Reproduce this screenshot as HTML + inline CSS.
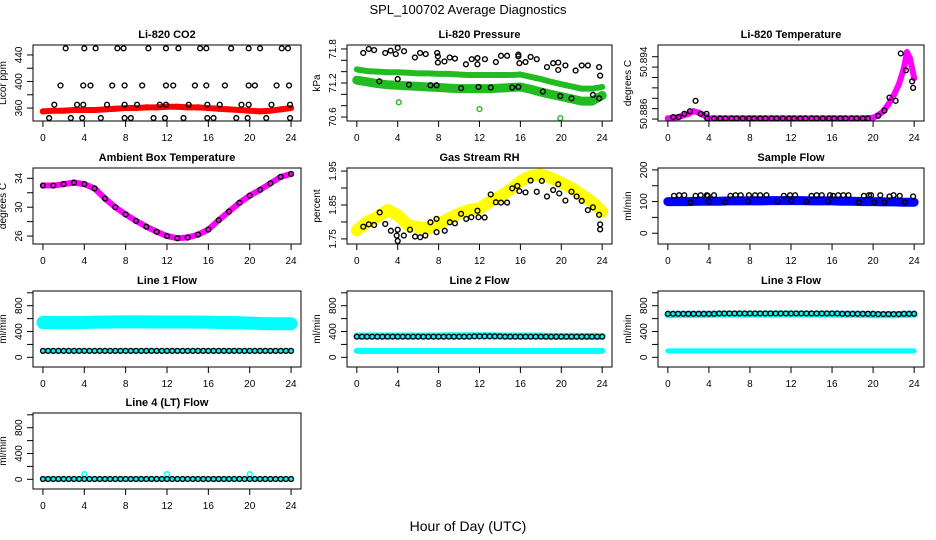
<!DOCTYPE html>
<html><head><meta charset="utf-8"><title>SPL_100702 Average Diagnostics</title>
<style>
html,body{margin:0;padding:0;background:#fff;}
svg{display:block;font-family:"Liberation Sans",Arial,sans-serif;}
</style></head>
<body>
<svg id="chart" width="936" height="540" viewBox="0 0 936 540" xmlns="http://www.w3.org/2000/svg">
<rect width="936" height="540" fill="#fff"/>
<text x="468" y="14" text-anchor="middle" font-size="13">SPL_100702  Average Diagnostics</text>
<text x="468" y="531" text-anchor="middle" font-size="14">Hour of Day (UTC)</text>
</svg>
<script>
// ---------- data ----------
const xTickLabels = [0,4,8,12,16,20,24];
const hours = [0,1,2,3,4,5,6,7,8,9,10,11,12,13,14,15,16,17,18,19,20,21,22,23,24];
const denseHours = [0,0.5,1,1.5,2,2.5,3,3.5,4,4.5,5,5.5,6,6.5,7,7.5,8,8.5,9,9.5,10,10.5,11,11.5,12,12.5,13,13.5,14,14.5,15,15.5,16,16.5,17,17.5,18,18.5,19,19.5,20,20.5,21,21.5,22,22.5,23,23.5,24];

// CO2
const co2Ticks = [360,380,400,420,440];
const co2Labels = [360,400,440];
const co2Band = [355,356,356,357,357,357,358,359,360,360,361,361,362,362,361,361,360,359,358,357,356,355,356,358,360];
const co2Times = [2.2,4.0,5.1,7.2,7.8,10.2,11.9,13.1,15.2,15.8,18.2,19.9,21.0,23.1,23.7,
  1.7,3.9,4.6,6.7,7.9,9.6,11.9,12.6,14.7,15.8,17.6,19.9,20.5,22.6,23.8,
  1.1,3.3,3.9,6.2,7.9,9.1,11.3,11.9,14.1,15.9,17.1,19.2,19.9,22.1,23.9,
  0.6,2.7,3.8,5.6,7.9,8.5,10.7,11.8,13.6,15.9,16.5,18.7,19.8,21.6,23.9];
const co2Vals = [450,450,450,450,450,450,450,450,450,450,450,450,450,450,450,
  394,394,394,394,394,394,394,394,394,394,394,394,394,394,394,
  365,365,365,365,365,365,365,365,365,365,365,365,365,365,365,
  345,345,345,345,345,345,345,345,345,345,345,345,345,345,345];

// Pressure
const presTicks = [70.6,70.8,71.0,71.2,71.4,71.6,71.8];
const presLabels = [70.6,71.2,71.8];
const presUpper = [71.44,71.41,71.40,71.39,71.39,71.38,71.37,71.37,71.36,71.36,71.35,71.34,71.34,71.34,71.34,71.34,71.35,71.31,71.27,71.22,71.18,71.14,71.10,71.10,71.13];
const presLower = [71.25,71.22,71.19,71.17,71.16,71.15,71.14,71.13,71.12,71.11,71.10,71.10,71.10,71.10,71.11,71.12,71.13,71.09,71.04,71.00,70.96,70.92,70.88,70.88,70.98];
const presTimes = [0.63,1.17,1.69,2.78,3.3,3.81,4.0,4.62,5.68,6.19,6.74,7.86,7.93,7.93,8.57,9.09,9.6,10.67,11.24,11.8,11.8,12.53,13.6,14.1,14.7,15.8,15.8,15.9,16.5,17.0,17.6,18.6,19.2,19.7,19.7,20.4,21.4,22.0,22.6,23.7,23.8,
  2.2,4.0,5.1,7.2,7.8,10.2,11.9,13.1,15.2,15.8,18.2,19.9,21.0,23.1,23.7];
const presVals = [71.73,71.80,71.78,71.73,71.77,71.71,71.82,71.76,71.65,71.73,71.71,71.73,71.67,71.56,71.58,71.65,71.63,71.53,71.62,71.64,71.53,71.62,71.57,71.68,71.68,71.70,71.67,71.55,71.57,71.66,71.62,71.48,71.55,71.56,71.43,71.51,71.42,71.51,71.51,71.48,71.33,
  71.23,71.27,71.17,71.16,71.16,71.11,71.13,71.12,71.12,71.13,71.05,70.97,70.93,70.99,70.93];
const presGreenTimes = [4.1,12.0,19.9];
const presGreenVals = [70.86,70.74,70.58];

// Li-820 temperature
const tempTicks = [50.8852,50.8868,50.8884,50.8900,50.8916,50.8932,50.8948];
const tempLabels = [50.886,50.894];
const tempBandTimes = [0,1,2,2.5,3,3.5,4,5,6,7,8,9,10,11,12,13,14,15,16,17,18,19,20,20.5,21,21.5,22,22.5,23,23.3,23.6,24];
const tempBand = [50.8853,50.8855,50.8860,50.8864,50.8862,50.8858,50.8853,50.8853,50.8853,50.8853,50.8853,50.8853,50.8853,50.8853,50.8853,50.8853,50.8853,50.8853,50.8853,50.8853,50.8853,50.8853,50.8854,50.8858,50.8864,50.8875,50.8888,50.8905,50.8930,50.8955,50.8945,50.8915];
const tempTimes = [0.52,1.07,1.6,2.15,2.7,3.2,3.77,3.84,4.5,5.1,5.6,6.2,6.7,7.3,7.9,8.4,9.0,9.5,10.1,10.6,11.2,11.8,12.3,12.9,13.4,14.0,14.5,15.1,15.7,16.2,16.8,17.3,17.9,18.4,19.0,19.5,20.5,21.1,21.6,22.2,22.7,23.2,23.8,23.9];
const tempVals = [50.8855,50.8855,50.8860,50.8864,50.8880,50.8860,50.8860,50.8853,50.8853,50.8853,50.8853,50.8853,50.8853,50.8853,50.8853,50.8853,50.8853,50.8853,50.8853,50.8853,50.8853,50.8853,50.8853,50.8853,50.8853,50.8853,50.8853,50.8853,50.8853,50.8853,50.8853,50.8853,50.8853,50.8853,50.8853,50.8853,50.8857,50.8865,50.8885,50.8880,50.8953,50.8927,50.8910,50.8900];

// Ambient box temperature
const ambTicks = [26,28,30,32,34];
const ambLabels = [26,30,34];
const ambVals = [33.0,33.0,33.2,33.4,33.2,32.6,31.2,30.0,29.0,28.1,27.3,26.6,26.0,25.7,25.8,26.2,26.9,28.2,29.4,30.6,31.6,32.4,33.3,34.2,34.6];

// Gas stream RH
const rhTicks = [1.75,1.80,1.85,1.90,1.95];
const rhLabels = [1.75,1.85,1.95];
const rhBand = [1.775,1.80,1.815,1.835,1.82,1.79,1.785,1.78,1.795,1.81,1.825,1.835,1.84,1.86,1.875,1.895,1.92,1.935,1.94,1.93,1.915,1.90,1.88,1.86,1.83];
const rhTimes = [0.63,1.17,1.69,2.24,2.78,3.33,3.9,4.0,4.0,4.6,5.2,5.7,6.2,6.7,7.2,7.8,7.8,8.6,9.1,9.6,10.2,10.7,11.2,11.8,11.9,12.5,13.1,13.6,14.1,14.7,15.2,15.7,15.9,16.5,17.0,17.6,18.1,18.6,19.2,19.7,19.8,20.4,21.0,21.5,22.0,22.6,23.1,23.7,23.8,23.8];
const rhVals = [1.786,1.793,1.791,1.828,1.794,1.774,1.760,1.744,1.777,1.760,1.777,1.757,1.755,1.760,1.799,1.809,1.770,1.774,1.799,1.796,1.824,1.809,1.814,1.833,1.814,1.813,1.881,1.858,1.857,1.857,1.899,1.906,1.891,1.887,1.922,1.889,1.921,1.875,1.894,1.911,1.884,1.863,1.889,1.875,1.862,1.835,1.843,1.821,1.793,1.778];

// Sample flow
const sfTicks = [0,50,100,150,200];
const sfLabels = [0,100,200];
const sfBand = [100,100,100,101,101,101,102,102,102,102,103,103,103,103,102,102,102,101,101,100,100,99,99,98,98];
const sfTimes = [0.6,1.1,1.6,2.2,2.7,3.2,3.8,3.9,4.0,4.5,5.6,6.1,6.6,7.1,7.8,7.9,8.5,9.0,9.6,10.7,11.3,11.9,12.0,12.4,13.5,14.0,14.5,15.0,15.6,15.8,16.1,16.6,17.1,17.6,18.6,19.1,19.6,19.8,20.1,20.7,21.1,21.6,22.0,22.6,23.1,23.9];
const sfVals = [118,120,120,98,118,120,120,118,100,120,98,118,120,120,100,120,120,120,120,100,118,120,102,120,100,118,120,120,100,120,118,120,120,120,98,118,120,120,98,120,98,116,120,118,98,116];

// Line flows
const flowTicks = [0,200,400,600,800,1000];
const flowLabels = [0,400,800];
const line1High = [540,540,535,540,540,545,545,550,550,550,550,548,548,548,548,545,545,540,540,535,530,525,520,520,520];
const line1Low = [100,100,100,100,100,100,100,100,100,100,100,100,100,100,100,100,100,100,100,100,100,100,100,100,100];
const line1Black = [100,100,100,100,100,100,100,100,100,100,100,100,100,100,100,100,100,100,100,100,100,100,100,100,100,100,100,100,100,100,100,100,100,100,100,100,100,100,100,100,100,100,100,100,100,100,100,100,100];
const line2High = [330,330,330,330,330,330,330,330,330,335,335,335,335,335,330,330,330,330,330,325,325,325,325,325,325];
const line2Low = [100,100,100,100,100,100,100,100,100,100,100,100,100,100,100,100,100,100,100,100,100,100,100,100,100];
const line2Black = [320,320,320,320,320,320,320,320,320,320,320,320,320,320,320,320,320,320,320,320,320,320,320,325,325,325,325,325,325,320,320,320,320,320,320,320,320,320,320,320,320,320,320,320,320,320,320,320,320];
const line3High = [660,665,665,665,665,670,670,670,670,670,670,672,672,672,670,670,670,668,668,665,660,660,660,665,670];
const line3Low = [100,100,100,100,100,100,100,100,100,100,100,100,100,100,100,100,100,100,100,100,100,100,100,100,100];
const line3Black = [675,675,675,675,675,675,675,675,675,675,680,680,680,680,680,680,680,680,680,680,680,680,680,680,680,680,680,680,680,680,680,680,680,680,675,675,675,675,675,675,675,670,670,670,670,670,675,675,675];
const line4Cyan = [5,5,5,5,5,5,5,5,5,5,5,5,5,5,5,5,5,5,5,5,5,5,5,5,5];
const line4CyanOutTimes = [4,12,20];
const line4CyanOut = [80,80,80];
const line4Black = [5,5,5,5,5,5,5,5,5,5,5,5,5,5,5,5,5,5,5,5,5,5,5,5,5,5,5,5,5,5,5,5,5,5,5,5,5,5,5,5,5,5,5,5,5,5,5,5,5];

// ---------- drawing ----------
const NS = "http://www.w3.org/2000/svg";
const svg = document.getElementById('chart');
const cols = [[33,301],[347,612],[658,924]];
const rows = [[45,121],[168,244],[291,367],[413,489]];

function mk(tag, parent){ const e=document.createElementNS(NS,tag); parent.appendChild(e); return e; }

function makePanel(name, c, r, ylim, ticks, labels, ylab, title, fmt){
  const [x0,x1]=cols[c], [y0,y1]=rows[r];
  const g = mk('g', svg);
  
  
  const sx = t => x0 + (t+0.96)/25.92*(x1-x0);
  const sy = v => y1 - (v-ylim[0])/(ylim[1]-ylim[0])*(y1-y0);
  const clipId = 'clip-'+name;
  const cp = mk('clipPath', g); cp.setAttribute('id', clipId);
  const cr = mk('rect', cp); cr.setAttribute('x',x0); cr.setAttribute('y',y0); cr.setAttribute('width',x1-x0); cr.setAttribute('height',y1-y0);
  const plot = mk('g', g); plot.setAttribute('clip-path','url(#'+clipId+')');
  
  
  const ttl = mk('text', g);
  
  
  ttl.setAttribute('x',(x0+x1)/2); ttl.setAttribute('y',y0-7); ttl.setAttribute('text-anchor','middle');
  ttl.setAttribute('font-size','11'); ttl.setAttribute('font-weight','bold'); ttl.textContent=title;
  const yl = mk('text', g);
  
  
  const ylx = x0-27, yly=(y0+y1)/2;
  yl.setAttribute('transform','translate('+ylx+','+yly+') rotate(-90)'); yl.setAttribute('text-anchor','middle');
  yl.setAttribute('font-size','10'); yl.textContent=ylab;
  // x axis
  xTickLabels.forEach(t=>{
    const x=sx(t);
    const l=mk('line',g); l.setAttribute('x1',x); l.setAttribute('x2',x); l.setAttribute('y1',y1); l.setAttribute('y2',y1+6); l.setAttribute('stroke','#000');
    
    
    const tx=mk('text',g); tx.setAttribute('x',x); tx.setAttribute('y',y1+20); tx.setAttribute('text-anchor','middle'); tx.setAttribute('font-size','10'); tx.textContent=t;
    
    
  });
  ticks.forEach(v=>{
    const y=sy(v);
    const l=mk('line',g); l.setAttribute('x1',x0-6); l.setAttribute('x2',x0); l.setAttribute('y1',y); l.setAttribute('y2',y); l.setAttribute('stroke','#000');
    
    
  });
  labels.forEach(v=>{
    const y=sy(v);
    const tx=mk('text',g); tx.setAttribute('transform','translate('+(x0-11)+','+y+') rotate(-90)');
    tx.setAttribute('text-anchor','middle'); tx.setAttribute('font-size','10'); tx.textContent= fmt?fmt(v):v;
    
    
  });
  const box=mk('rect',g); box.setAttribute('x',x0); box.setAttribute('y',y0); box.setAttribute('width',x1-x0); box.setAttribute('height',y1-y0);
  box.setAttribute('fill','none'); box.setAttribute('stroke','#000');
  
  
  return {plot, sx, sy, name};
}

function band(p, times, vals, color, width, label){
  const pl = mk('polyline', p.plot);
  
  
  pl.setAttribute('points', times.map((t,i)=>p.sx(t)+','+p.sy(vals[i])).join(' '));
  pl.setAttribute('fill','none'); pl.setAttribute('stroke',color); pl.setAttribute('stroke-width',width);
  pl.setAttribute('stroke-linecap','round'); pl.setAttribute('stroke-linejoin','round');
}
function pts(p, times, vals, color, label){
  const g = mk('g', p.plot);
  
  
  times.forEach((t,i)=>{
    const c=mk('circle',g);
    
    
    c.setAttribute('cx',p.sx(t)); c.setAttribute('cy',p.sy(vals[i])); c.setAttribute('r',2.4);
    c.setAttribute('fill','none'); c.setAttribute('stroke',color); c.setAttribute('stroke-width',1.4);
  });
}

// Panel 1
let p = makePanel('co2-panel',0,0,[340.5,455],co2Ticks,co2Labels,'Licor ppm','Li-820 CO2');
band(p,hours,co2Band,'#ff0000',6,'red-series'); pts(p,hours,co2Band,'#ff0000','red-points');
pts(p,co2Times,co2Vals,'#000','black-points');

// Panel 2
p = makePanel('pressure-panel',1,0,[70.53,71.87],presTicks,presLabels,'kPa','Li-820 Pressure',v=>v.toFixed(1));
band(p,hours,presUpper,'#22bb22',6,'green-upper'); band(p,hours,presLower,'#22bb22',9,'green-lower');
pts(p,presGreenTimes,presGreenVals,'#22bb22','green-outliers');
pts(p,presTimes,presVals,'#000','black-points');

// Panel 3
p = makePanel('li820-temp-panel',2,0,[50.8849,50.8966],tempTicks,tempLabels,'degrees C','Li-820 Temperature',v=>v.toFixed(3));
band(p,tempBandTimes,tempBand,'#ff00ff',6,'magenta-series'); pts(p,tempBandTimes,tempBand,'#ff00ff','magenta-points');
pts(p,tempTimes,tempVals,'#000','black-points');

// Panel 4
p = makePanel('ambient-temp-panel',0,1,[24.9,35.43],ambTicks,ambLabels,'degrees C','Ambient Box Temperature');
band(p,hours,ambVals,'#ff00ff',6,'magenta-series');
pts(p,hours,ambVals,'#000','black-points');

// Panel 5
p = makePanel('rh-panel',1,1,[1.735,1.959],rhTicks,rhLabels,'percent','Gas Stream RH',v=>v.toFixed(2));
band(p,hours,rhBand,'#ffff00',12,'yellow-series'); pts(p,hours,rhBand,'#ffff00','yellow-points');
pts(p,rhTimes,rhVals,'#000','black-points');

// Panel 6
p = makePanel('sample-flow-panel',2,1,[-34,206],sfTicks,sfLabels,'ml/min','Sample Flow');
band(p,hours,sfBand,'#0000ff',9,'blue-series');
pts(p,sfTimes,sfVals,'#000','black-points');

// Panel 7
p = makePanel('line1-flow-panel',0,2,[-150,1028],flowTicks,flowLabels,'ml/min','Line 1 Flow');
band(p,hours,line1High,'#00ffff',13,'cyan-high'); band(p,hours,line1Low,'#00ffff',5,'cyan-low');
pts(p,denseHours,line1Black,'#000','black-points');

// Panel 8
p = makePanel('line2-flow-panel',1,2,[-150,1028],flowTicks,flowLabels,'ml/min','Line 2 Flow');
band(p,hours,line2High,'#00ffff',7,'cyan-high'); band(p,hours,line2Low,'#00ffff',6,'cyan-low');
pts(p,denseHours,line2Black,'#000','black-points');

// Panel 9
p = makePanel('line3-flow-panel',2,2,[-150,1028],flowTicks,flowLabels,'ml/min','Line 3 Flow');
band(p,hours,line3High,'#00ffff',7,'cyan-high'); band(p,hours,line3Low,'#00ffff',5,'cyan-low');
pts(p,denseHours,line3Black,'#000','black-points');

// Panel 10
p = makePanel('line4-flow-panel',0,3,[-150,1028],flowTicks,flowLabels,'ml/min','Line 4 (LT) Flow');
band(p,hours,line4Cyan,'#00ffff',5,'cyan-series');
pts(p,line4CyanOutTimes,line4CyanOut,'#00ffff','cyan-outliers');
pts(p,denseHours,line4Black,'#000','black-points');
</script>
</body></html>
